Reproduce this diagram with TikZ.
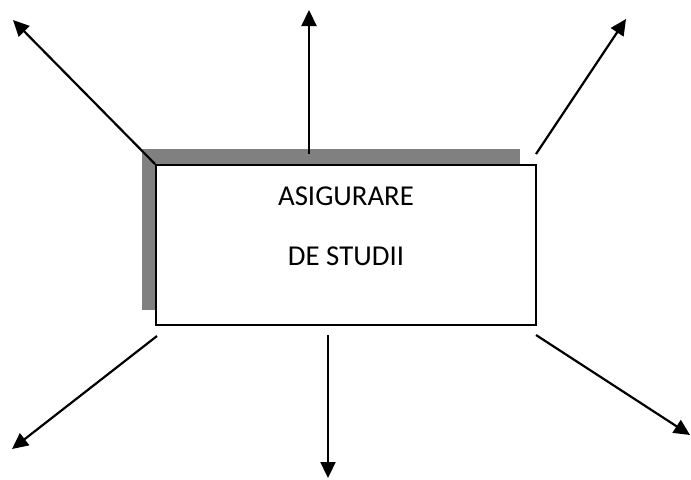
\documentclass[tikz,border=0pt]{standalone}
\usepackage{fontspec}
\setmainfont{Carlito}
\usetikzlibrary{arrows.meta}

\tikzset{
  boxframe/.style={draw, line width=1pt, fill=white, minimum width=190pt, minimum height=80pt, inner sep=0pt},
  shadowbox/.style={fill=gray, draw=none},
  outarrow/.style={line width=1.1pt, -{Triangle[length=8pt,width=7.5pt]}},
  boxtext/.style={font=\fontsize{14.4}{17}\selectfont, inner sep=0pt}
}

\begin{document}
\begin{tikzpicture}[x=0.5pt,y=-0.5pt]
\useasboundingbox (0,0) rectangle (691,479);

% umbra si caseta
\fill[shadowbox] (142,149) rectangle (520,310);
\node[boxframe] (asig) at (346,245) {};
\node[boxtext] (rand1) at (346,196) {ASIGURARE};
\node[boxtext] (rand2) at (346,256) {DE STUDII};

% capete sageti
\coordinate (pa2) at (309,154);
\coordinate (pa3) at (536,154);
\coordinate (pa4) at (157,336);
\coordinate (pa5) at (328,335);
\coordinate (pa6) at (536,335);

\coordinate (pb1) at (13,20);
\coordinate (pb2) at (309,10);
\coordinate (pb3) at (626,19);
\coordinate (pb4) at (12,449);
\coordinate (pb5) at (328,478);
\coordinate (pb6) at (690,435);

\draw[outarrow] (asig.north west) -- (pb1);
\draw[outarrow] (pa2) -- (pb2);
\draw[outarrow] (pa3) -- (pb3);
\draw[outarrow] (pa4) -- (pb4);
\draw[outarrow] (pa5) -- (pb5);
\draw[outarrow] (pa6) -- (pb6);

\end{tikzpicture}
\end{document}
